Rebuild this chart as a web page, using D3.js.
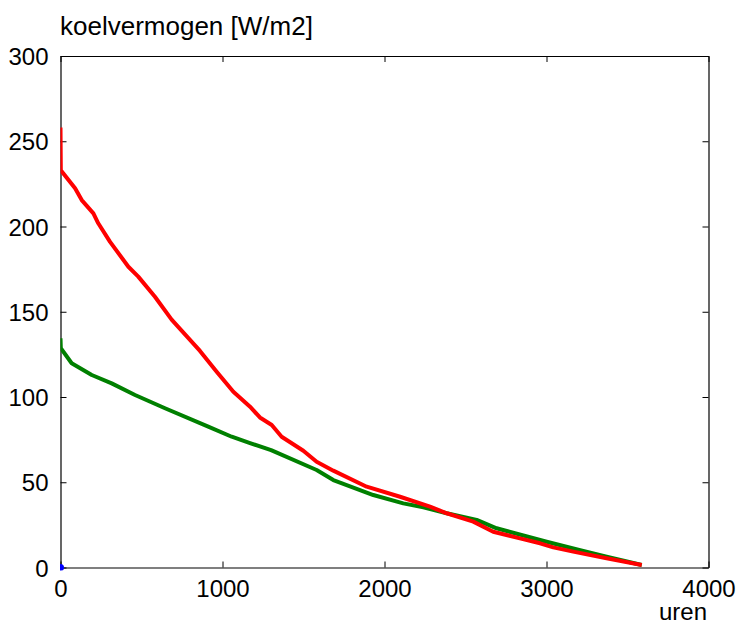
<!DOCTYPE html>
<html><head><meta charset="utf-8">
<script src="https://cdn.jsdelivr.net/npm/d3@7"></script>
<style>body{margin:0;background:#fff}svg{display:block}text{font-family:"Liberation Sans",Arial,sans-serif}</style>
</head><body>
<svg id="c" width="739" height="624"></svg>
<script>
const xTicks = [0, 1000, 2000, 3000, 4000];
const yTicks = [0, 50, 100, 150, 200, 250, 300];
const redHours = [0, 2, 90, 131, 203, 233, 306, 419, 480, 583, 686, 861, 964, 1067, 1170, 1231, 1304, 1365, 1499, 1581, 1684, 1890, 2096, 2281, 2384, 2548, 2671, 2836, 2960, 3042, 3165, 3371, 3588];
const redValues = [258, 233, 222.4, 215.5, 207.7, 201.9, 191, 176.4, 170.6, 158.8, 145.4, 127, 114.8, 103.1, 94.3, 88, 83.6, 76.7, 68.5, 62, 56.8, 47.4, 41.5, 35.7, 31.8, 26.9, 21, 17.1, 14.2, 11.8, 9.3, 5.4, 1.5];
const greenHours = [0, 2, 69, 193, 316, 460, 645, 912, 1057, 1170, 1300, 1581, 1684, 1931, 2116, 2240, 2384, 2569, 2692, 3001, 3202, 3371, 3588];
const greenValues = [134.4, 128.6, 119.8, 112.9, 108, 101.2, 93.4, 82.6, 76.7, 73, 68.8, 57.2, 51.3, 42.5, 37.6, 35.3, 31.8, 27.9, 23, 15.1, 10.3, 6.3, 1.5];
const bluePoint = [[0, 0]];

const svg = d3.select("#c");
const L = 60.5, R = 708.5, T = 56, B = 567.5;
const x = d3.scaleLinear().domain([0, 4000]).range([L, R]);
const y = d3.scaleLinear().domain([0, 300]).range([B, T]);

const defs = svg.append("defs");
defs.append("clipPath").attr("id", "clip")
  .append("rect").attr("x", L).attr("y", T).attr("width", R - L).attr("height", B - T);
defs.append("clipPath").attr("id", "clipdot")
  .append("rect").attr("x", L - 0.5).attr("y", T).attr("width", R - L).attr("height", B - T + 3);

const fs = 24;
const fmt = d3.format("d");
const gx = svg.append("g").attr("transform", `translate(0,${B})`)
  .call(d3.axisBottom(x).tickValues(xTicks).tickFormat(fmt).tickSizeInner(-6).tickSizeOuter(0).tickPadding(12));
const gxt = svg.append("g").attr("transform", `translate(0,${T})`)
  .call(d3.axisTop(x).tickValues(xTicks).tickSizeInner(-6).tickSizeOuter(0).tickFormat(""));
const gy = svg.append("g").attr("transform", `translate(${L},0)`)
  .call(d3.axisLeft(y).tickValues(yTicks).tickFormat(fmt).tickSizeInner(-6).tickSizeOuter(0).tickPadding(12));
const gyr = svg.append("g").attr("transform", `translate(${R},0)`)
  .call(d3.axisRight(y).tickValues(yTicks).tickSizeInner(-6).tickSizeOuter(0).tickFormat(""));
[gx, gxt, gy, gyr].forEach(g => {
  g.selectAll("path.domain").attr("stroke", "#000").attr("stroke-width", 1.2);
  g.selectAll("line").attr("stroke", "#000").attr("stroke-width", 1);
  g.selectAll("text").attr("font-size", fs).attr("fill", "#000").attr("font-family", '"Liberation Sans",Arial,sans-serif');
});
gy.selectAll("text").attr("dy", "0.36em");
gx.selectAll("text").attr("dy", "0.71em");

svg.append("circle").attr("clip-path", "url(#clipdot)")
  .attr("cx", x(bluePoint[0][0])).attr("cy", y(bluePoint[0][1])).attr("r", 3.5).attr("fill", "#0000ff");
const plot = svg.append("g").attr("clip-path", "url(#clip)");
const line = d3.line().x(d => x(d[0])).y(d => y(d[1]));
plot.append("path").datum(greenHours.map((h, i) => [h, greenValues[i]]))
  .attr("d", line).attr("fill", "none").attr("stroke", "#008000").attr("stroke-width", 4).attr("stroke-linejoin", "round");
plot.append("path").datum(redHours.map((h, i) => [h, redValues[i]]))
  .attr("d", line).attr("fill", "none").attr("stroke", "#ff0000").attr("stroke-width", 4).attr("stroke-linejoin", "round");

svg.append("text").attr("x", 60).attr("y", 35).attr("font-size", 26).attr("fill", "#000").text("koelvermogen [W/m2]");
svg.append("text").attr("x", 707).attr("y", 620).attr("text-anchor", "end").attr("font-size", fs).attr("fill", "#000").text("uren");
</script>
</body></html>
